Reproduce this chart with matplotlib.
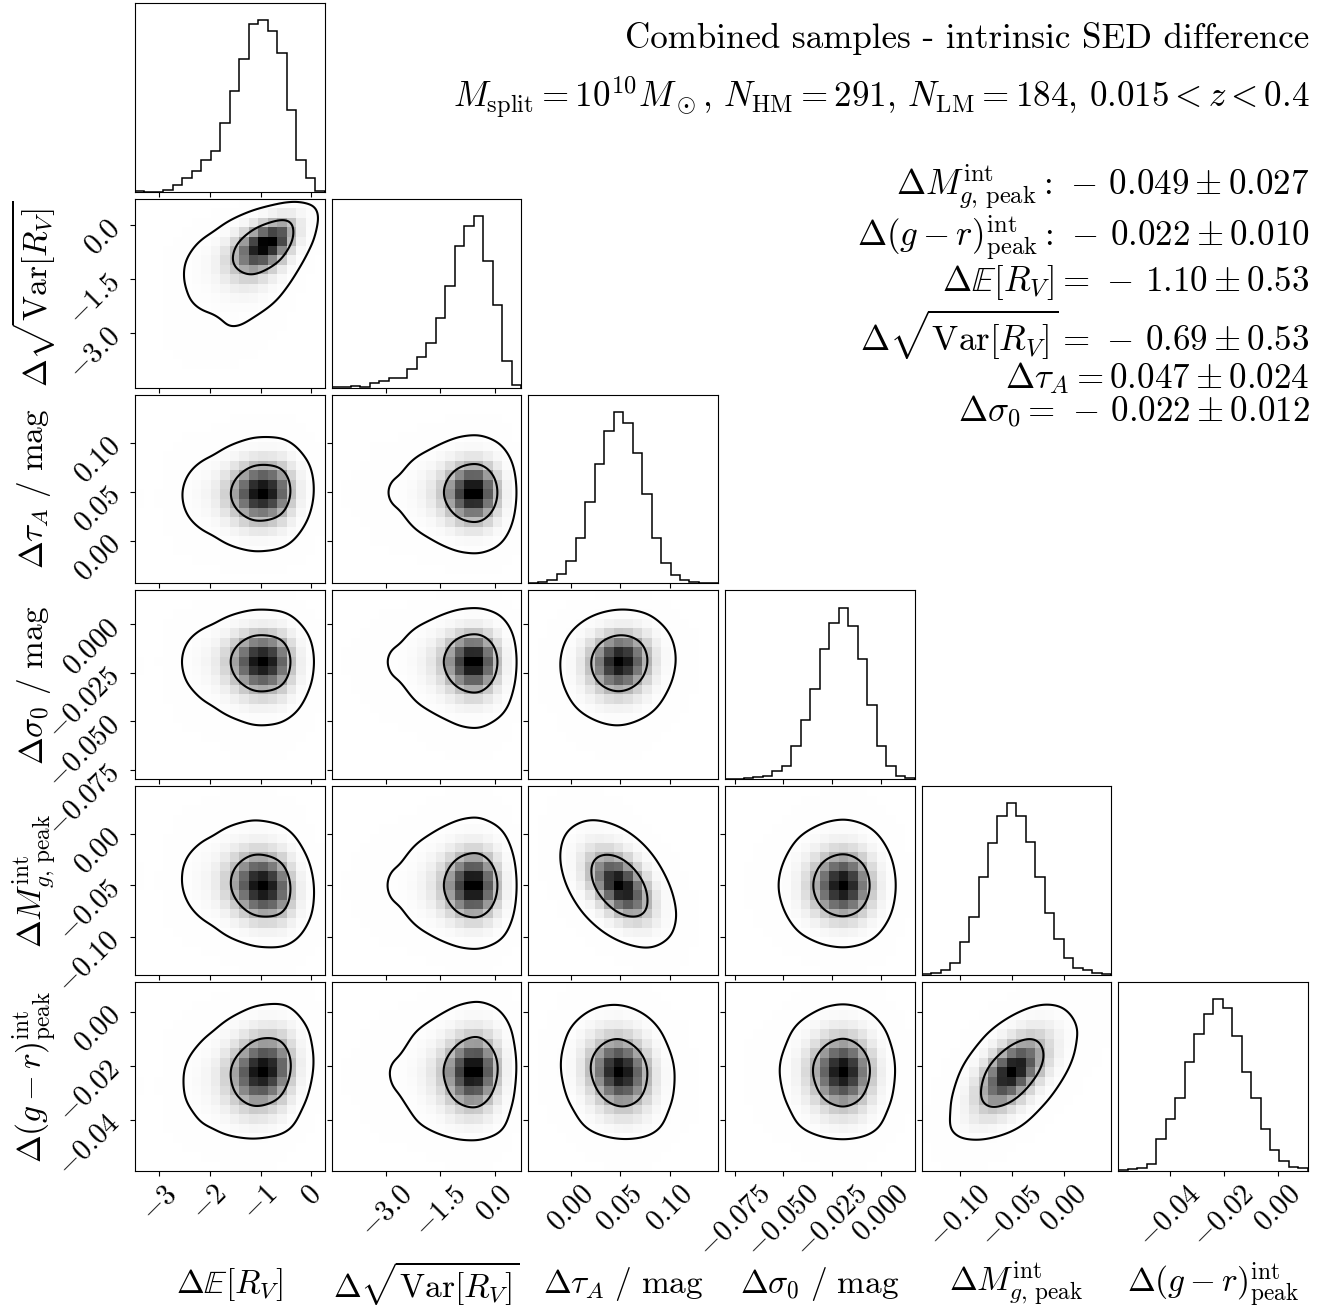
import math
import numpy as np
import matplotlib
matplotlib.use("Agg")
import matplotlib.pyplot as plt
from matplotlib.colors import LinearSegmentedColormap

plt.rcParams["mathtext.fontset"] = "cm"
plt.rcParams["font.family"] = "serif"
plt.rcParams["font.serif"] = ["cmr10"]
plt.rcParams["axes.formatter.use_mathtext"] = True

labels = [r"$\Delta\mathbb{E}[R_V]$",
          r"$\Delta\sqrt{\mathrm{Var}[R_V]}$",
          r"$\Delta\tau_A\ /\ \mathrm{mag}$",
          r"$\Delta\sigma_0\ /\ \mathrm{mag}$",
          r"$\Delta M_{g,\,\mathrm{peak}}^{\mathrm{int}}$",
          r"$\Delta(g-r)_{\mathrm{peak}}^{\mathrm{int}}$"]
lo = [-3.48, -4.51, -0.043, -0.080, -0.137, -0.059]
hi = [0.26, 0.74, 0.149, 0.0175, 0.046, 0.011]

# 1D marginal histograms (20 bins each, counts)
h0 = [4, 0, 0, 7, 20, 40, 62, 95, 121, 206, 301, 397, 502, 512, 481, 414, 243, 94, 40, 4]
h1 = [1, 2, 4, 2, 14, 20, 30, 29, 57, 92, 133, 207, 302, 422, 482, 512, 379, 248, 80, 7]
h2 = [0, 1, 3, 9, 22, 45, 80, 118, 150, 169, 158, 128, 88, 45, 20, 8, 3, 1, 0, 0]
h3 = [0, 0, 1, 2, 3, 8, 13, 33, 58, 88, 128, 153, 168, 150, 118, 73, 33, 13, 3, 1]
h4 = [1, 2, 5, 12, 32, 57, 95, 129, 155, 167, 155, 130, 95, 60, 35, 17, 7, 5, 2, 1]
h5 = [1, 2, 3, 7, 31, 51, 71, 106, 133, 153, 167, 159, 131, 96, 71, 41, 20, 10, 4, 3]
hists = [h0, h1, h2, h3, h4, h5]

# pairwise correlations estimated from the 2D panels
corr = np.array([
    [1.00, 0.50, 0.05, 0.00, -0.10, 0.15],
    [0.50, 1.00, 0.00, 0.00, 0.00, 0.05],
    [0.05, 0.00, 1.00, 0.05, -0.45, -0.10],
    [0.00, 0.00, 0.05, 1.00, 0.00, 0.00],
    [-0.10, 0.00, -0.45, 0.00, 1.00, 0.55],
    [0.15, 0.05, -0.10, 0.00, 0.55, 1.00],
])

ticks = [[-3, -2, -1, 0],
         [-3.0, -1.5, 0.0],
         [0.00, 0.05, 0.10],
         [-0.075, -0.050, -0.025, 0.000],
         [-0.10, -0.05, 0.00],
         [-0.04, -0.02, 0.00]]
tick_labels = [["-3", "-2", "-1", "0"],
               ["-3.0", "-1.5", "0.0"],
               ["0.00", "0.05", "0.10"],
               ["-0.075", "-0.050", "-0.025", "0.000"],
               ["-0.10", "-0.05", "0.00"],
               ["-0.04", "-0.02", "0.00"]]

title_lines = ["Combined samples - intrinsic SED difference",
               r"$M_{\mathrm{split}}=10^{10}M_\odot$, $N_{\mathrm{HM}}=291$, $N_{\mathrm{LM}}=184$, $0.015<z<0.4$"]
summary_lines = [r"$\Delta M_{g,\,\mathrm{peak}}^{\mathrm{int}}:\,-\,0.049\pm0.027$",
                 r"$\Delta(g-r)_{\mathrm{peak}}^{\mathrm{int}}:\,-\,0.022\pm0.010$",
                 r"$\Delta\mathbb{E}[R_V]=\,-\,1.10\pm0.53$",
                 r"$\Delta\sqrt{\mathrm{Var}[R_V]}=\,-\,0.69\pm0.53$",
                 r"$\Delta\tau_A=0.047\pm0.024$",
                 r"$\Delta\sigma_0=\,-\,0.022\pm0.012$"]

levels = [0.48, 0.94]
nbins = 20
sub = 10
ndim = len(labels)

# normal quantile table for the copula
zt = np.linspace(-7, 7, 4001)
ct = 0.5 * (1 + np.vectorize(math.erf)(zt / np.sqrt(2)))
kx = np.arange(-3 * sub, 3 * sub + 1)
kernel = np.exp(-0.5 * (kx / (0.6 * sub)) ** 2)
kernel /= kernel.sum()


def marginal(i):
    edges = np.linspace(lo[i], hi[i], nbins + 1)
    centers = 0.5 * (edges[1:] + edges[:-1])
    xf = np.linspace(lo[i], hi[i], nbins * sub + 1)
    xc = 0.5 * (xf[1:] + xf[:-1])
    f = np.interp(xc, centers, np.array(hists[i], float))
    f = np.convolve(f, kernel, mode="same") + 0.01
    f = f / f.sum()
    F = np.clip(np.cumsum(f) - 0.5 * f, 1e-7, 1 - 1e-7)
    z = np.interp(F, ct, zt)
    return edges, xc, f, z


margs = [marginal(i) for i in range(ndim)]
density_cmap = LinearSegmentedColormap.from_list("density", ["k", (1, 1, 1, 0)])

fig, axes = plt.subplots(ndim, ndim, figsize=(13.36, 13.12), dpi=100)
fig.subplots_adjust(left=0.101, right=0.979, top=0.9977, bottom=0.1075,
                    wspace=0.037, hspace=0.037)

for row in range(ndim):
    for col in range(ndim):
        ax = axes[row, col]
        if col > row:
            ax.set_axis_off()
            continue
        if col == row:
            edges = margs[col][0]
            ax.stairs(hists[col], edges, color="k", lw=1.1)
            ax.set_ylim(0, 1.1 * max(hists[col]))
            ax.set_yticks([])
        else:
            ex, xc, fx, zx = margs[col]
            ey, yc, fy, zy = margs[row]
            r = corr[row, col]
            ZX, ZY = np.meshgrid(zx, zy)
            cop = np.exp(-(r**2 * (ZX**2 + ZY**2) - 2 * r * ZX * ZY) / (2 * (1 - r**2))) / np.sqrt(1 - r**2)
            P = fy[:, None] * fx[None, :] * cop
            H = P.reshape(nbins, sub, nbins, sub).sum(axis=(1, 3))
            ax.pcolormesh(ex, ey, H.max() - H, cmap=density_cmap, shading="flat")
            flat = np.sort(P.ravel())[::-1]
            cum = np.cumsum(flat) / flat.sum()
            V = sorted(flat[np.searchsorted(cum, lv)] for lv in levels)
            ax.contour(xc, yc, P, V, colors="k", linewidths=1.5)
            ax.set_ylim(lo[row], hi[row])
            ax.set_yticks(ticks[row])
            if col == 0:
                ax.set_yticklabels(["$%s$" % s for s in tick_labels[row]], fontsize=21, rotation=45)
                ax.set_ylabel(labels[row], fontsize=24, va="center")
                ax.yaxis.set_label_coords(-0.53, 0.5)
            else:
                ax.set_yticklabels([])
        ax.set_xlim(lo[col], hi[col])
        ax.set_xticks(ticks[col])
        if row == ndim - 1:
            ax.set_xticklabels(["$%s$" % s for s in tick_labels[col]], fontsize=21, rotation=45)
            ax.set_xlabel(labels[col], fontsize=24, va="center")
            ax.xaxis.set_label_coords(0.5, -0.6)
        else:
            ax.set_xticklabels([])

fig.text(0.98, 0.971, title_lines[0], ha="right", va="center", fontsize=25.2)
fig.text(0.98, 0.926, title_lines[1], ha="right", va="center", fontsize=25.2)
summary_y = [0.858, 0.819, 0.785, 0.745, 0.712, 0.686]
for s, yy in zip(summary_lines, summary_y):
    fig.text(0.98, yy, s, ha="right", va="center", fontsize=25.2)

fig.savefig("out.png", dpi=100)
